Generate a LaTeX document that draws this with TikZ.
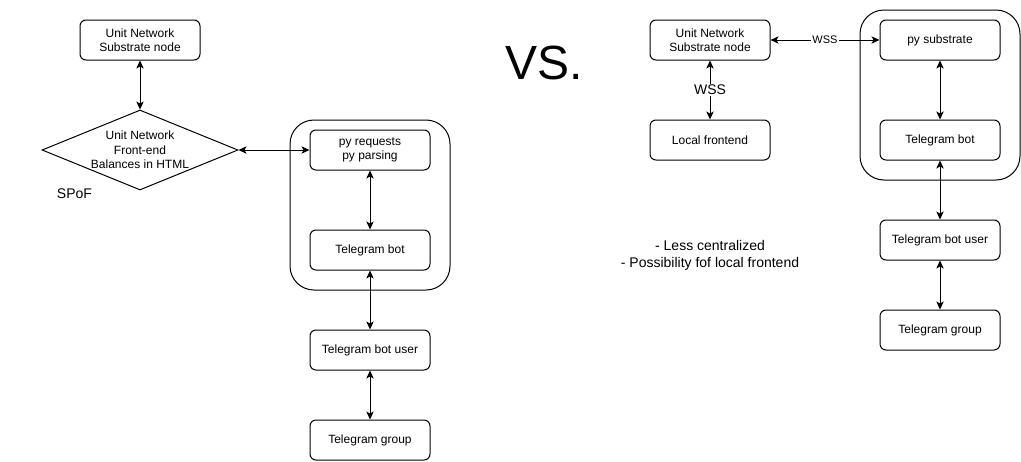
\documentclass[tikz,border=0pt]{standalone}
\usepackage{fontspec}
\setmainfont{Liberation Sans}
\usetikzlibrary{shapes.geometric,arrows.meta}

\begin{document}
\begin{tikzpicture}[x=0.75pt, y=-0.75pt, line width=0.75pt,
		font=\fontsize{9}{10.8}\selectfont,
		box/.style={draw, rounded corners=4.5pt, minimum width=90pt, minimum height=30pt, align=center, inner sep=0pt},
		grp/.style={draw, rounded corners=18pt, minimum width=120pt, minimum height=127.5pt},
		diam/.style={draw, diamond, aspect=2.45, inner sep=0pt, minimum width=147pt, minimum height=60pt, align=center},
		link/.style={{Stealth[length=6pt,width=5.5pt,inset=1.5pt]}-{Stealth[length=6pt,width=5.5pt,inset=1.5pt]}},
		big/.style={font=\fontsize{10.5}{12.6}\selectfont, align=center}]
			\useasboundingbox (0,0) rectangle (1021,461);

			% left side
			\node[grp] (grpL) at (370,205) {};
			\node[box] (subL) at (140,40) {Unit Network\\Substrate node};
			\node[diam] (feL) at (140,150) {Unit Network\\Front-end\\Balances in HTML};
			\node[big, anchor=west] (spof) at (52,194) {SPoF};
			\node[box] (reqL) at (370,150) {py requests\\py parsing};
			\node[box] (botL) at (370,250) {Telegram bot};
			\node[box] (userL) at (370,350) {Telegram bot user};
			\node[box] (groupL) at (370,440) {Telegram group};

			\draw[link] (subL) -- (feL);
			\draw[link] (feL) -- (reqL);
			\draw[link] (reqL) -- (botL);
			\draw[link] (botL) -- (userL);
			\draw[link] (userL) -- (groupL);

			\node[font=\fontsize{36}{43}\selectfont] (vs) at (544,63) {VS.};

			% right side
			\node[grp] (grpR) at (940,95) {};
			\node[box] (subR) at (710,40) {Unit Network\\Substrate node};
			\node[box] (localR) at (710,140) {Local frontend};
			\node[box] (pysubR) at (940,40) {py substrate};
			\node[box] (botR) at (940,140) {Telegram bot};
			\node[box] (userR) at (940,240) {Telegram bot user};
			\node[box] (groupR) at (940,330) {Telegram group};

			\draw[link] (subR) -- node[big, fill=white, inner sep=1pt] {WSS} (localR);
			\draw[link] (subR) -- node[fill=white, inner sep=1pt, font=\fontsize{8.25}{9.9}\selectfont] {WSS} (pysubR);
			\draw[link] (pysubR) -- (botR);
			\draw[link] (botR) -- (userR);
			\draw[link] (userR) -- (groupR);

			\node[big] (pros) at (710,255) {- Less centralized\\- Possibility fof local frontend};
		\end{tikzpicture}
\end{document}
